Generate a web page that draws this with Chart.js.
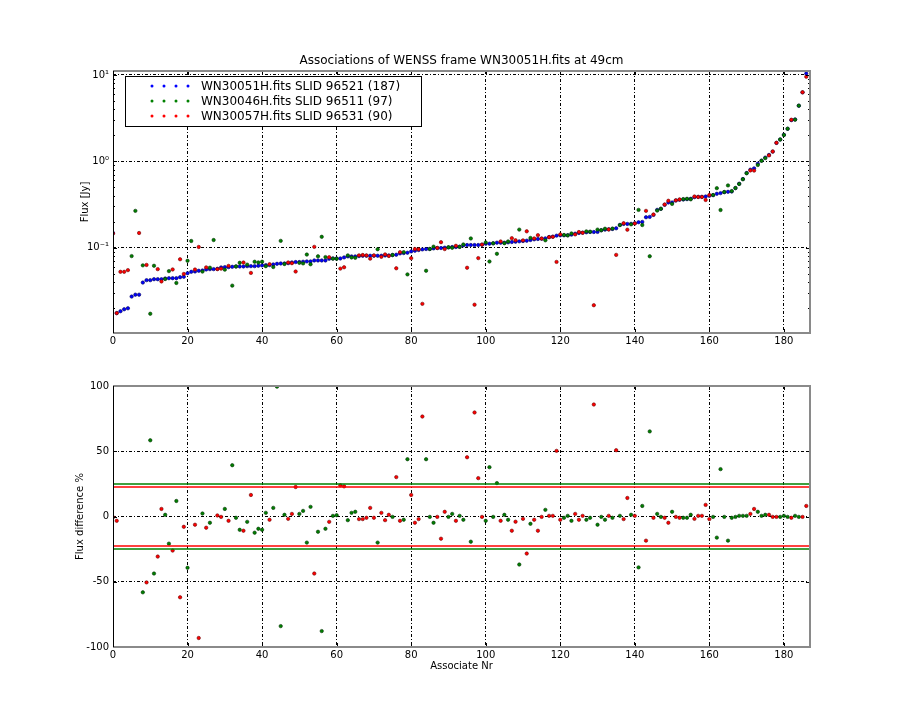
<!DOCTYPE html>
<html>
<head>
<meta charset="utf-8">
<title>Associations of WENSS frame WN30051H.fits at 49cm</title>
<script src="https://cdn.jsdelivr.net/npm/chart.js@4.4.1/dist/chart.umd.min.js"></script>
<style>
  body { margin: 0; background: #fff; }
  #wrap { position: relative; width: 900px; height: 720px; }
  canvas { position: absolute; left: 0; }
  #fluxChart { top: 0; }
  #diffChart { top: 360px; }
</style>
</head>
<body>
<div id="wrap">
  <canvas id="fluxChart" width="900" height="360"></canvas>
  <canvas id="diffChart" width="900" height="360"></canvas>
</div>
<script>
// Two stacked panels: fluxes per associate (log) and the % difference
// of the two neighbouring frames against WN30051H.

const TITLE = "Associations of WENSS frame WN30051H.fits at 49cm";
const SERIES_NAMES = [
  "WN30051H.fits SLID 96521 (187)",
  "WN30046H.fits SLID 96511 (97)",
  "WN30057H.fits SLID 96531 (90)",
];
const SERIES_COLORS = ["#0000ff", "#008000", "#ff0000"];
const EDGE_COLORS = ["#00005a", "#003000", "#6a0000"];

const X_MIN = 0, X_MAX = 187;
const X_TICKS = [0, 20, 40, 60, 80, 100, 120, 140, 160, 180];
const FLUX_MIN = 0.0103, FLUX_MAX = 11.1;
const FLUX_TICKS = [0.1, 1, 10];
const FLUX_TICK_LABELS = ["10\u207b\u00b9", "10\u2070", "10\u00b9"];
const DIFF_TICKS = [-100, -50, 0, 50, 100];

// WN30051H flux, one value per associate nr 0..186
const BLUE_FLUX = [
  0.148, 0.0175, 0.0184, 0.0194, 0.0199, 0.0272, 0.0286, 0.0286, 0.0395, 0.0421,
  0.0421, 0.0432, 0.0432, 0.0432, 0.0440, 0.0444, 0.0444, 0.0444, 0.0456, 0.0461,
  0.0507, 0.0526, 0.0531, 0.0541, 0.0545, 0.0560, 0.0565, 0.0565, 0.0570, 0.0591,
  0.0596, 0.0596, 0.0601, 0.0607, 0.0607, 0.0607, 0.0612, 0.0612, 0.0612, 0.0618,
  0.0624, 0.0629, 0.0629, 0.0640, 0.0651, 0.0657, 0.0657, 0.0663, 0.0676, 0.0682,
  0.0682, 0.0688, 0.0694, 0.0694, 0.0712, 0.0712, 0.0712, 0.0712, 0.0745, 0.0751,
  0.0751, 0.0751, 0.0772, 0.0793, 0.0793, 0.0793, 0.0800, 0.0807, 0.0807, 0.0807,
  0.0807, 0.0807, 0.0807, 0.0814, 0.0814, 0.0822, 0.0829, 0.0859, 0.0867, 0.0875,
  0.0906, 0.0923, 0.0940, 0.0956, 0.0965, 0.0965, 0.0982, 0.0991, 0.0991, 0.1000,
  0.1009, 0.1018, 0.1018, 0.1027, 0.1064, 0.1074, 0.1074, 0.1074, 0.1074, 0.1083,
  0.1113, 0.1113, 0.1123, 0.1143, 0.1143, 0.1143, 0.1153, 0.1164, 0.1174, 0.1185,
  0.1195, 0.1206, 0.1228, 0.1250, 0.1261, 0.1272, 0.1284, 0.1330, 0.1342, 0.1379,
  0.1391, 0.1391, 0.1395, 0.1416, 0.1455, 0.1482, 0.1494, 0.1508, 0.1520, 0.1520,
  0.1525, 0.1590, 0.1619, 0.1634, 0.1648, 0.1678, 0.1836, 0.1885, 0.1885, 0.1890,
  0.1919, 0.1972, 0.1988, 0.2253, 0.2274, 0.2399, 0.2742, 0.2817, 0.3133, 0.3335,
  0.3335, 0.3523, 0.3585, 0.3615, 0.3647, 0.3680, 0.3846, 0.3881, 0.3881, 0.3916,
  0.3988, 0.4060, 0.4207, 0.4284, 0.4399, 0.4437, 0.4476, 0.4897, 0.5497, 0.6231,
  0.7318, 0.7999, 0.8291, 0.9398, 1.0186, 1.1035, 1.1853, 1.2953, 1.633, 1.786,
  2.024, 2.377, 2.997, 3.05, 4.396, 6.28, 10.37,
];

// WN30046H matches
const GREEN_IDX = [
  5, 6, 8, 10, 11, 14, 15, 17, 20, 21, 24, 26, 27, 30, 32, 33, 34, 36, 38, 39,
  40, 41, 43, 44, 45, 46, 50, 51, 52, 53, 55, 56, 57, 59, 60, 63, 64, 65, 71, 75,
  78, 79, 84, 85, 86, 90, 91, 93, 94, 96, 100, 101, 102, 103, 105, 106, 109, 112, 116, 121,
  122, 123, 127, 128, 130, 131, 132, 134, 136, 139, 141, 142, 144, 146, 147, 150, 153, 154, 155, 161,
  162, 163, 164, 165, 166, 167, 168, 169, 170, 173, 174, 175, 179, 180, 181, 183, 184,
];
const GREEN_FLUX = [
  0.080, 0.267, 0.0625, 0.0172, 0.0618, 0.0434, 0.0536, 0.0391, 0.0706, 0.1196,
  0.0529, 0.0587, 0.1227, 0.0557, 0.0364, 0.0607, 0.0669, 0.0637, 0.0688, 0.0676,
  0.0688, 0.0611, 0.0598, 0.0003, 0.1200, 0.0648, 0.0668, 0.0658, 0.0833, 0.0643,
  0.0795, 0.1337, 0.0779, 0.0747, 0.0744, 0.0815, 0.0771, 0.0764, 0.0960, 0.0824,
  0.0889, 0.0491, 0.0541, 0.0968, 0.1029, 0.1012, 0.0998, 0.1022, 0.1091, 0.1280,
  0.1149, 0.0692, 0.1126, 0.0850, 0.1128, 0.1182, 0.1620, 0.1297, 0.1218, 0.1404,
  0.1388, 0.1463, 0.1546, 0.1535, 0.1621, 0.1595, 0.1659, 0.1664, 0.1827, 0.1865,
  0.274, 0.183, 0.0796, 0.2687, 0.2825, 0.3215, 0.3651, 0.3683, 0.3632, 0.4072,
  0.489, 0.273, 0.4412, 0.526, 0.4521, 0.4912, 0.547, 0.620, 0.728, 0.906,
  1.0135, 1.089, 1.791, 2.014, 2.384, 3.035, 4.409,
];
const GREEN_DIFF = [
  null, null, -58.1, 58.4, -43.7, 1.3, -20.8, 11.9, -39.3, null,
  2.3, -4.8, null, 5.8, 39.3, -1, -10.2, -4.1, -12.4, -9.4,
  -10.2, 2.8, 6.6, 99.5, -84, 1.3, 2, 4.3, -20, 7.4,
  -11.7, -87.8, -9.4, 0.5, 1, -2.8, 2.8, 3.6, -20, -0.3,
  -2.5, 43.9, 43.9, -0.3, -4.8, -0.3, 2, 0.5, -2.5, -19.3,
  -3.3, 37.8, -0.3, 25.6, 1.3, -2.5, -36.8, -5.6, 5.1, -1,
  0.5, -3.3, -2.5, -1, -6.3, -0.3, -2.5, -1, 0.5, 1.3,
  -39, 8.1, 65.2, 2, -0.3, 3.6, -1, -1, 1.3, -0.3,
  -16.2, 36.3, -0.3, -18.5, -1, -0.3, 0.5, 0.5, 0.5, 3.6,
  0.5, 1.3, -0.3, 0.5, -0.3, 0.5, -0.3,
];

// WN30057H matches
const RED_IDX = [
  0, 1, 2, 3, 4, 7, 9, 12, 13, 16, 18, 19, 22, 23, 25, 28, 29, 31, 35, 37,
  42, 47, 48, 49, 54, 58, 61, 62, 66, 67, 68, 69, 70, 72, 73, 74, 76, 77, 80, 81,
  82, 83, 87, 88, 89, 92, 95, 97, 98, 99, 104, 107, 108, 110, 111, 113, 114, 115, 117, 118,
  119, 120, 124, 125, 126, 129, 133, 135, 137, 138, 140, 143, 145, 148, 149, 151, 152, 156, 157, 158,
  159, 160, 171, 172, 176, 177, 178, 182, 185, 186,
];
const RED_FLUX = [
  0.146, 0.0175, 0.0526, 0.0526, 0.0550, 0.148, 0.0632, 0.0565, 0.0407, 0.0560,
  0.0735, 0.0497, 0.0559, 0.1020, 0.0592, 0.0565, 0.0572, 0.0616, 0.0674, 0.0511,
  0.0645, 0.0675, 0.0662, 0.0530, 0.1023, 0.0776, 0.0573, 0.0594, 0.0816, 0.0823,
  0.0815, 0.0747, 0.0815, 0.0784, 0.0837, 0.0803, 0.0578, 0.0888, 0.0757, 0.0967,
  0.0959, 0.0224, 0.0994, 0.1158, 0.0964, 0.1052, 0.0586, 0.0219, 0.0758, 0.1086,
  0.1181, 0.1290, 0.1221, 0.1217, 0.1548, 0.1281, 0.1398, 0.1276, 0.1323, 0.1335,
  0.0685, 0.1426, 0.1426, 0.1519, 0.1487, 0.0216, 0.1626, 0.0826, 0.1923, 0.1617,
  0.1909, 0.267, 0.2423, 0.3164, 0.3495, 0.3534, 0.3621, 0.3915, 0.3862, 0.3862,
  0.357, 0.4068, 0.784, 0.781, 1.170, 1.299, 1.638, 3.027, 6.30, 9.53,
];
const RED_DIFF = [
  -0.5, -3.3, null, null, null, null, -50.5, -30.7, 5.8, -26.1,
  -61.9, -7.9, -6.3, -93.1, -8.6, 0.8, -0.3, -3.3, -10.9, 16.5,
  -2.5, -1.8, 2, 22.6, -43.7, -4.1, 23.9, 23.1, -2, -2,
  -1, 6.6, -1, 2.8, -2.8, 1.3, 30.2, -3.3, 16.5, -4.8,
  -2, 76.6, -0.3, -17, 3.6, -3.3, 45.4, 79.7, 29.4, -0.3,
  -3.3, -10.9, -4, -1.8, -28.4, -2.5, -10.9, -0.3, 0.5, 0.5,
  50.3, -2.5, 2, -2.5, 0.5, 85.8, 0.5, 50.8, -2, 14.2,
  0.5, -18.5, -1, -1, -4.8, -0.3, -1, -1.8, 0.5, 0.5,
  8.9, -2, 2, 5.8, 1.3, -0.3, -0.3, -1, -0.3, 8.1,
];

// rms-like limits drawn across the difference panel
const GREEN_LIMIT = 24.9;
const RED_LIMIT = 22.6;

Chart.defaults.font.family = "'DejaVu Sans', sans-serif";
Chart.defaults.font.size = 10;
Chart.defaults.color = "#000";
Chart.defaults.animation = false;

const GRID_DASH = [3, 2, 1, 2];

function pointSet(name, k, data, order) {
  return {
    label: name,
    data,
    order,
    backgroundColor: SERIES_COLORS[k],
    borderColor: EDGE_COLORS[k],
    borderWidth: 0.6,
    pointRadius: 1.7,
    pointHoverRadius: 1.7,
  };
}

function limitLine(value, color) {
  return {
    label: "",
    data: [{ x: X_MIN, y: value }, { x: X_MAX, y: value }],
    showLine: true,
    borderColor: color,
    borderWidth: 1.3,
    pointRadius: 0,
    order: 0,
  };
}

function xAxis(extra) {
  return Object.assign({
    type: "linear",
    min: X_MIN,
    max: X_MAX,
    afterBuildTicks: (s) => { s.ticks = X_TICKS.map((v) => ({ value: v })); },
    grid: { color: "#000", lineWidth: 1, drawTicks: false },
    border: { display: false, dash: GRID_DASH },
    ticks: { padding: 2, maxRotation: 0, autoSkip: false },
  }, extra);
}

// inward matplotlib-style tick marks plus the axes frame
const framePlugin = {
  id: "frame",
  afterDatasetsDraw(chart, args, opts) {
    const { ctx, chartArea: a, scales } = chart;
    ctx.save();
    ctx.strokeStyle = "#000";
    ctx.lineWidth = 1;
    ctx.beginPath();
    X_TICKS.forEach((v) => {
      const px = Math.round(scales.x.getPixelForValue(v)) + 0.5;
      ctx.moveTo(px, a.bottom); ctx.lineTo(px, a.bottom - 4);
      ctx.moveTo(px, a.top); ctx.lineTo(px, a.top + 4);
    });
    (opts.major || []).forEach((v) => {
      const py = Math.round(scales.y.getPixelForValue(v)) + 0.5;
      ctx.moveTo(a.left, py); ctx.lineTo(a.left + 4, py);
      ctx.moveTo(a.right, py); ctx.lineTo(a.right - 4, py);
    });
    (opts.minor || []).forEach((v) => {
      const py = Math.round(scales.y.getPixelForValue(v)) + 0.5;
      ctx.moveTo(a.left, py); ctx.lineTo(a.left + 2, py);
      ctx.moveTo(a.right, py); ctx.lineTo(a.right - 2, py);
    });
    ctx.stroke();

    ctx.strokeStyle = "#8a8a8a";
    ctx.lineWidth = 2;
    ctx.beginPath();
    ctx.moveTo(a.left, a.top); ctx.lineTo(a.right, a.top);
    ctx.lineTo(a.right, a.bottom); ctx.lineTo(a.left, a.bottom);
    ctx.stroke();
    ctx.strokeStyle = "#000";
    ctx.lineWidth = 1;
    ctx.beginPath();
    ctx.moveTo(Math.round(a.left) + 0.5, a.top);
    ctx.lineTo(Math.round(a.left) + 0.5, a.bottom);
    ctx.stroke();
    ctx.restore();
  },
};

// legend with four markers per entry, as in the original
const legendPlugin = {
  id: "dotLegend",
  afterDraw(chart) {
    const { ctx } = chart;
    ctx.save();
    ctx.fillStyle = "#fff";
    ctx.fillRect(126, 77, 295, 49);
    ctx.strokeStyle = "#000";
    ctx.lineWidth = 1;
    ctx.strokeRect(125.5, 76.5, 296, 50);
    ctx.font = "12px 'DejaVu Sans'";
    ctx.textBaseline = "middle";
    chart.data.datasets.slice(0, 3).forEach((ds, k) => {
      const y = 86 + k * 15;
      for (let d = 0; d < 4; d++) {
        ctx.beginPath();
        ctx.arc(152 + d * 12, y, 1.5, 0, Math.PI * 2);
        ctx.fillStyle = ds.backgroundColor;
        ctx.fill();
      }
      ctx.fillStyle = "#000";
      ctx.fillText(ds.label, 201, y + 0.5);
    });
    ctx.restore();
  },
};

const minorLog = [];
for (let d = -2; d <= 1; d++) {
  for (let m = 2; m <= 9; m++) {
    const v = m * Math.pow(10, d);
    if (v > FLUX_MIN && v < FLUX_MAX) minorLog.push(v);
  }
}

const blueData = BLUE_FLUX.map((v, i) => ({ x: i, y: v }));
const greenData = GREEN_IDX.map((i, k) => ({ x: i, y: GREEN_FLUX[k] }));
const redData = RED_IDX.map((i, k) => ({ x: i, y: RED_FLUX[k] }));
const greenDiff = GREEN_IDX.map((i, k) => ({ x: i, y: GREEN_DIFF[k] }));
const redDiff = RED_IDX.map((i, k) => ({ x: i, y: RED_DIFF[k] }));

new Chart(document.getElementById("fluxChart"), {
  type: "scatter",
  data: {
    datasets: [
      pointSet(SERIES_NAMES[0], 0, blueData, 3),
      pointSet(SERIES_NAMES[1], 1, greenData, 2),
      pointSet(SERIES_NAMES[2], 2, redData, 1),
    ],
  },
  options: {
    responsive: false,
    layout: { padding: { left: 79, right: 90, top: 53.8, bottom: 7 } },
    scales: {
      x: xAxis({ afterFit: (s) => { s.height = 20; } }),
      y: {
        type: "logarithmic",
        min: FLUX_MIN,
        max: FLUX_MAX,
        afterBuildTicks: (s) => { s.ticks = FLUX_TICKS.map((v) => ({ value: v })); },
        afterFit: (s) => { s.width = 34; },
        grid: { color: "#000", lineWidth: 1, drawTicks: false },
        border: { display: false, dash: GRID_DASH },
        ticks: { padding: 4, autoSkip: false, callback: (v, i) => FLUX_TICK_LABELS[i] },
        title: { display: true, text: "Flux [Jy]", padding: 0, font: { size: 10 } },
      },
    },
    plugins: {
      legend: { display: false },
      tooltip: { enabled: false },
      title: {
        display: true,
        text: TITLE,
        fullSize: false,
        color: "#000",
        font: { size: 12, weight: "normal" },
        padding: { top: 0, bottom: 2.8 },
      },
      frame: { major: FLUX_TICKS, minor: minorLog },
    },
  },
  plugins: [framePlugin, legendPlugin],
});

new Chart(document.getElementById("diffChart"), {
  type: "scatter",
  data: {
    datasets: [
      pointSet(SERIES_NAMES[1], 1, greenDiff, 2),
      pointSet(SERIES_NAMES[2], 2, redDiff, 1),
      limitLine(GREEN_LIMIT, SERIES_COLORS[1]),
      limitLine(-GREEN_LIMIT, SERIES_COLORS[1]),
      limitLine(RED_LIMIT, SERIES_COLORS[2]),
      limitLine(-RED_LIMIT, SERIES_COLORS[2]),
    ],
  },
  options: {
    responsive: false,
    layout: { padding: { left: 74, right: 90, top: 26, bottom: 48 } },
    scales: {
      x: xAxis({
        afterFit: (s) => { s.height = 25; },
        title: { display: true, text: "Associate Nr", padding: 0, font: { size: 10 } },
      }),
      y: {
        type: "linear",
        min: -100,
        max: 100,
        afterBuildTicks: (s) => { s.ticks = DIFF_TICKS.map((v) => ({ value: v })); },
        afterFit: (s) => { s.width = 39; },
        grid: { color: "#000", lineWidth: 1, drawTicks: false },
        border: { display: false, dash: GRID_DASH },
        ticks: { padding: 4, autoSkip: false },
        title: { display: true, text: "Flux difference %", padding: 0, font: { size: 10 } },
      },
    },
    plugins: {
      legend: { display: false },
      tooltip: { enabled: false },
      frame: { major: DIFF_TICKS, minor: [] },
    },
  },
  plugins: [framePlugin],
});
</script>
</body>
</html>
